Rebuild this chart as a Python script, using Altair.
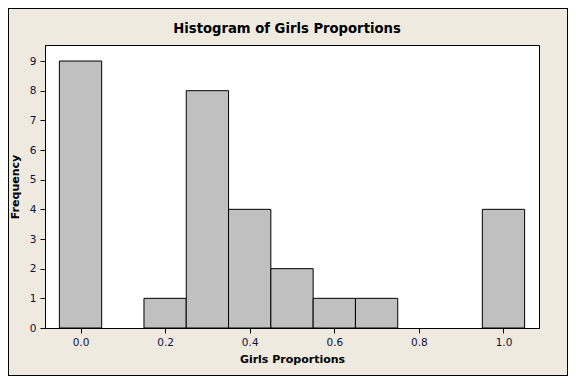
import altair as alt
import pandas as pd

centers = [0.0, 0.1, 0.2, 0.3, 0.4, 0.5, 0.6, 0.7, 0.8, 0.9, 1.0]
counts = [9, 0, 1, 8, 4, 2, 1, 1, 0, 0, 4]
x_ticks = [0.0, 0.2, 0.4, 0.6, 0.8, 1.0]
y_ticks = [0, 1, 2, 3, 4, 5, 6, 7, 8, 9]
title_text = "Histogram of Girls Proportions"

df = pd.DataFrame({"center": centers, "count": counts})

W, H = 494, 283
PL, PT, PR, PB = 37, 37, 29, 48
BG = "#EEEAE0"
FONT = "DejaVu Sans"

bars = alt.Chart(df).transform_filter(
    alt.datum.count > 0
).transform_calculate(
    lo="datum.center - 0.05", hi="datum.center + 0.05"
).mark_rect(fill="#C0C0C0", stroke="black", strokeWidth=1).encode(
    x=alt.X("lo:Q", scale=alt.Scale(domain=[-0.084, 1.084], nice=False, zero=False),
            axis=alt.Axis(values=x_ticks, format=".1f", title="Girls Proportions",
                          titlePadding=6)),
    x2="hi:Q",
    y=alt.Y("count:Q", scale=alt.Scale(domain=[0, 9.54], nice=False),
            axis=alt.Axis(values=y_ticks, format="d", title="Frequency",
                          titlePadding=9)),
)

border = alt.Chart(df).mark_rect(fill=None, stroke="black", strokeWidth=1, clip=False).encode(
    x=alt.value(-PL + 0.5), x2=alt.value(W + PR - 0.5),
    y=alt.value(-PT + 0.5), y2=alt.value(H + PB - 0.5),
)

title = alt.Chart(pd.DataFrame({"t": [title_text]})).mark_text(
    font=FONT, fontSize=13.2, fontWeight="bold", color="black",
    align="center", baseline="alphabetic", clip=False,
).encode(
    text="t:N", x=alt.value(242), y=alt.value(-12),
)

chart = alt.layer(bars, border, title).properties(
    width=W, height=H,
    background=BG,
    padding={"left": PL, "top": PT, "right": PR, "bottom": PB},
    autosize=alt.AutoSizeParams(type="none"),
).configure_view(
    fill="white", stroke="black", strokeWidth=1
).configure_axis(
    grid=False, domainColor="black", tickColor="black", tickSize=5,
    labelFont=FONT, labelFontSize=10.5, labelColor="#10103a",
    titleFont=FONT, titleFontSize=11, titleFontWeight="bold", titleColor="black",
    labelPadding=4,
)

chart.save("out.html", embed_options={"renderer": "svg", "actions": False})
